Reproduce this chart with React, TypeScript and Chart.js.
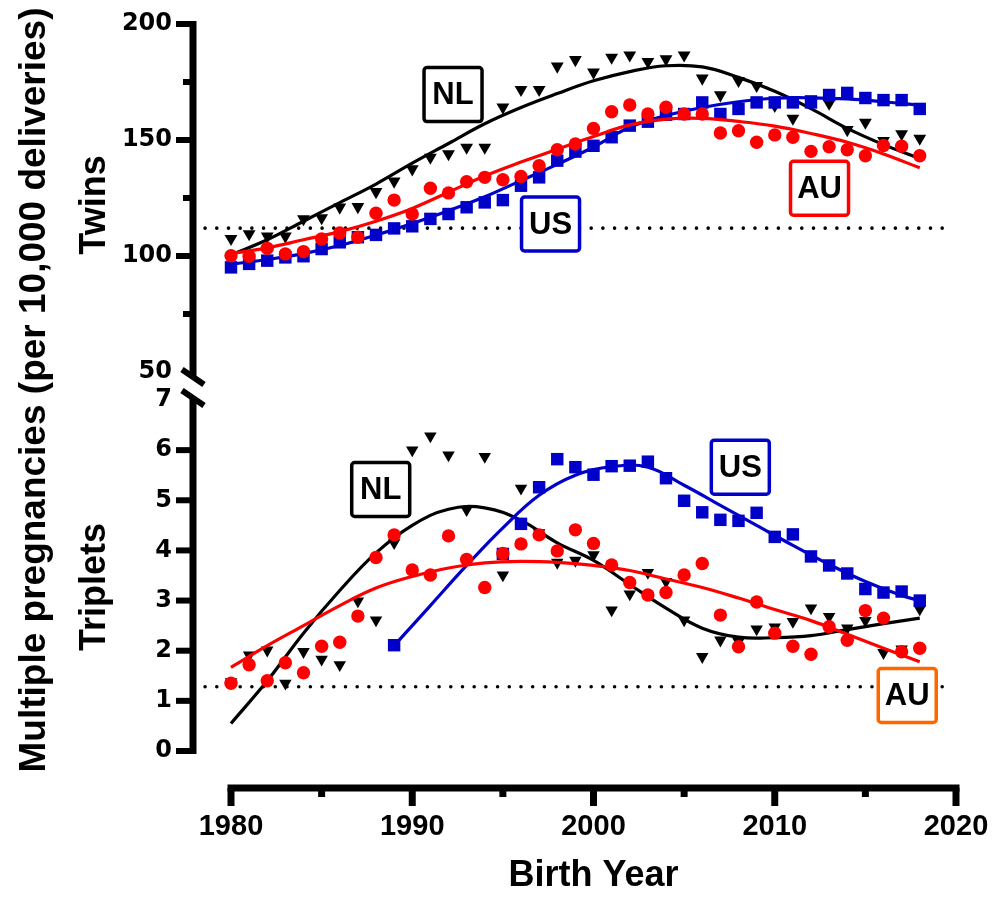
import React, { useEffect, useRef } from "react";
import { Chart, registerables } from "chart.js";

Chart.register(...registerables);

// ---------- data ----------
const years = [
  1980, 1981, 1982, 1983, 1984, 1985, 1986, 1987, 1988, 1989,
  1990, 1991, 1992, 1993, 1994, 1995, 1996, 1997, 1998, 1999,
  2000, 2001, 2002, 2003, 2004, 2005, 2006, 2007, 2008, 2009,
  2010, 2011, 2012, 2013, 2014, 2015, 2016, 2017, 2018,
];

// Twins (per 10,000 deliveries)
const twinsNL = [
  107.5, 109.5, 108.5, 108.5, 116.0, 116.4, 121.0, 121.2, 127.7, 132.2,
  137.5, 142.5, 144.0, 146.8, 146.8, 164.1, 171.7, 171.7, 181.8, 184.6,
  179.2, 185.6, 186.6, 183.8, 184.9, 186.6, 176.6, 169.4, 175.6, 173.4,
  164.8, 159.3, 167.7, 165.8, 154.4, 157.6, 149.7, 152.6, 150.7,
];
const twinsUS = [
  95.1, 96.6, 98.0, 99.4, 99.9, 103.0, 105.9, 108.1, 109.1, 111.9,
  112.8, 116.0, 118.1, 121.0, 123.1, 124.1, 130.3, 133.9, 141.1, 145.0,
  147.5, 151.2, 156.2, 157.9, 160.9, 161.2, 166.2, 161.2, 163.4, 166.2,
  166.2, 166.2, 166.2, 169.4, 170.3, 168.1, 167.2, 167.2, 163.4,
];
const twinsAU = [
  100.1, 99.9, 103.3, 100.9, 101.9, 107.3, 109.9, 108.1, 118.4, 124.1,
  118.1, 129.2, 127.2, 132.0, 133.9, 132.9, 134.3, 138.9, 145.8, 148.3,
  155.0, 162.2, 165.1, 161.2, 164.1, 161.2, 161.2, 153.0, 154.0, 149.0,
  152.2, 151.2, 145.1, 147.1, 145.8, 143.2, 147.6, 147.3, 143.2,
];

// Triplets (per 10,000 deliveries)
const tripNL = [
  1.38, 1.91, 2.01, 1.35, 1.98, 1.83, 1.72, 2.99, 2.61, 4.15,
  6.0, 6.28, 5.9, 4.81, 5.87, 3.51, 5.24, 4.35, 3.76, 3.8,
  3.91, 2.81, 3.13, 3.56, 3.38, 2.61, 1.88, 2.21, 2.18, 2.43,
  2.47, 2.58, 2.85, 2.68, 2.45, 2.6, 1.96, 2.03, 2.83,
];
const tripUS = [
  null, null, null, null, null, null, null, null, null, 2.11,
  null, null, null, null, null, 3.93, 4.53, 5.26, 5.82, 5.66,
  5.51, 5.68, 5.69, 5.77, 5.44, 4.99, 4.76, 4.61, 4.59, 4.75,
  4.27, 4.32, 3.88, 3.7, 3.54, 3.23, 3.16, 3.18, 3.0,
];
const tripAU = [
  1.35, 1.72, 1.4, 1.76, 1.56, 2.09, 2.17, 2.69, 3.86, 4.31,
  3.61, 3.51, 4.29, 3.82, 3.26, 3.94, 4.13, 4.31, 3.99, 4.41,
  4.14, 3.71, 3.36, 3.11, 3.16, 3.51, 3.74, 2.71, 2.08, 2.97,
  2.35, 2.09, 1.93, 2.48, 2.21, 2.8, 2.65, 1.98, 2.05,
];

// Fitted curves
const fitYears = [
  1980, 1982, 1984, 1986, 1988, 1990, 1992, 1994, 1996, 1998,
  2000, 2002, 2004, 2006, 2008, 2010, 2012, 2014, 2016, 2018,
];
const twinsNLFit = [100.5, 107, 115, 123, 131, 140, 148.5, 157, 164, 170, 175.5, 179.5, 182, 181.5, 177, 171, 163.5, 155, 148, 142];
const twinsUSFit = [96.5, 98.5, 101, 104.5, 109, 114, 119.5, 125.5, 132.5, 139.5, 147, 155.5, 160.5, 164, 166.5, 168, 168.2, 167.7, 166.5, 165];
const twinsAUFit = [101, 103.5, 107, 110.5, 115, 120.5, 127.5, 134.5, 140.5, 146, 151.5, 156.5, 159, 159.3, 158, 156, 152.8, 149, 144, 138];
const tripNLFit = [0.55, 1.4, 2.35, 3.2, 3.95, 4.5, 4.82, 4.85, 4.6, 4.15, 3.8, 3.32, 2.85, 2.45, 2.27, 2.26, 2.3, 2.42, 2.54, 2.65];
const tripAUFit = [1.67, 2.1, 2.5, 2.9, 3.25, 3.48, 3.65, 3.75, 3.78, 3.76, 3.7, 3.6, 3.43, 3.26, 3.05, 2.82, 2.6, 2.33, 2.05, 1.78];
const tripUSFitYears = [1989, 1991, 1993, 1995, 1997, 1999, 2001, 2003, 2005, 2007, 2009, 2011, 2013, 2015, 2017, 2018];
const tripUSFit = [2.1, 2.9, 3.7, 4.45, 5.1, 5.5, 5.67, 5.66, 5.3, 4.9, 4.5, 4.1, 3.72, 3.38, 3.1, 3.0];

// Dotted reference levels
const refYears = [1978.57, 2019.6];
const twinsRef = [112, 112];
const tripRef = [1.28, 1.28];

// Ticks
const xTicks = [1980, 1985, 1990, 1995, 2000, 2005, 2010, 2015, 2020];
const twinsTicks = [50, 100, 150, 200];
const twinsMinorTicks = [75, 125, 175];
const tripTicks = [0, 1, 2, 3, 4, 5, 6, 7];

// Country labels (anchored in data coordinates)
const boxLabels = [
  { text: "NL", year: 1992.25, value: 169.6, axis: "yT", color: "#000000" },
  { text: "US", year: 1997.63, value: 113.8, axis: "yT", color: "#0000C8" },
  { text: "AU", year: 2012.47, value: 129.2, axis: "yT", color: "#FF0000" },
  { text: "NL", year: 1988.26, value: 5.215, axis: "yP", color: "#000000" },
  { text: "US", year: 2008.1, value: 5.66, axis: "yP", color: "#0000C8" },
  { text: "AU", year: 2017.31, value: 1.107, axis: "yP", color: "#FF6600" },
];

const BLACK = "#000000";
const BLUE = "#0000C8";
const RED = "#FF0000";

const pts = (xs: number[], ys: (number | null)[]) =>
  xs.map((x, i) => ({ x, y: ys[i] })).filter((p) => p.y !== null && p.y !== undefined);

const pointsDS = (xs: number[], ys: (number | null)[], axis: string, style: string, radius: number, color: string, rotation = 0) => ({
  data: pts(xs, ys),
  yAxisID: axis,
  showLine: false,
  pointStyle: style,
  pointRadius: radius,
  pointRotation: rotation,
  pointBackgroundColor: color,
  pointBorderColor: color,
  pointBorderWidth: 0,
  borderColor: color,
  backgroundColor: color,
  clip: false,
});

const lineDS = (xs: number[], ys: number[], axis: string, color: string) => ({
  data: pts(xs, ys),
  yAxisID: axis,
  borderColor: color,
  borderWidth: 3.2,
  pointRadius: 0,
  tension: 0.4,
  fill: false,
  clip: false,
});

const refDS = (ys: number[], axis: string) => ({
  data: pts(refYears, ys),
  yAxisID: axis,
  borderColor: BLACK,
  borderWidth: 3.6,
  borderDash: [0, 11.7],
  borderCapStyle: "round",
  pointRadius: 0,
  fill: false,
  clip: false,
});

const decorPlugin = {
  id: "decor",
  afterDraw(chart: any) {
    const { ctx, chartArea, scales } = chart;
    const x = scales.x;
    const yT = scales.yT;
    const yP = scales.yP;
    const axX = chartArea.left - 38;
    const seg = (x1: number, y1: number, x2: number, y2: number) => {
      ctx.beginPath();
      ctx.moveTo(x1, y1);
      ctx.lineTo(x2, y2);
      ctx.stroke();
    };
    ctx.save();
    ctx.strokeStyle = "#000";
    ctx.lineCap = "butt";

    // Y axis with break
    const topY = yT.getPixelForValue(200);
    const brk1 = yT.getPixelForValue(50) + 5;
    const brk2 = yP.getPixelForValue(7) - 2;
    const zeroY = yP.getPixelForValue(0);
    ctx.lineWidth = 7;
    seg(axX, topY - 3, axX, brk1);
    seg(axX, brk2, axX, zeroY + 3);
    ctx.lineWidth = 6;
    for (const cy of [brk1, brk2]) seg(axX - 11, cy - 7.5, axX + 11, cy + 7.5);

    ctx.lineWidth = 6;
    for (const v of twinsTicks) {
      if (v === 50) continue;
      const p = yT.getPixelForValue(v);
      seg(axX, p, axX - 17, p);
    }
    for (const v of twinsMinorTicks) {
      const p = yT.getPixelForValue(v);
      seg(axX, p, axX - 10, p);
    }
    for (const v of tripTicks) {
      if (v === 7) continue;
      const p = yP.getPixelForValue(v);
      seg(axX, p, axX - 17, p);
    }

    // X axis
    const bY = chartArea.bottom;
    ctx.lineWidth = 7;
    seg(x.getPixelForValue(1980) - 3.5, bY, x.getPixelForValue(2020) + 3.5, bY);
    for (const v of xTicks) {
      const p = x.getPixelForValue(v);
      const len = v % 10 === 0 ? 18 : 9;
      seg(p, bY, p, bY + len);
    }

    // Country label boxes
    for (const b of boxLabels) {
      const cx = x.getPixelForValue(b.year);
      const cy = scales[b.axis].getPixelForValue(b.value);
      const w = 58;
      const h = 54;
      ctx.beginPath();
      ctx.roundRect(cx - w / 2, cy - h / 2, w, h, 3);
      ctx.fillStyle = "#ffffff";
      ctx.fill();
      ctx.lineWidth = 3.5;
      ctx.strokeStyle = b.color;
      ctx.stroke();
      ctx.fillStyle = "#000";
      ctx.font = 'bold 31px "Liberation Sans", Arial, sans-serif';
      ctx.textAlign = "center";
      ctx.textBaseline = "middle";
      ctx.fillText(b.text, cx, cy + 1);
    }

    // Main vertical title
    ctx.translate(35, 390);
    ctx.rotate(-Math.PI / 2);
    ctx.fillStyle = "#000";
    ctx.font = 'bold 37px "Liberation Sans", Arial, sans-serif';
    ctx.textAlign = "center";
    ctx.textBaseline = "middle";
    ctx.fillText("Multiple pregnancies (per 10,000 deliveries)", 0, 0);
    ctx.restore();
  },
};

const tickFontY = { family: '"DejaVu Sans", sans-serif', size: 24, weight: "bold" };
const titleFont = { family: '"Liberation Sans", Arial, sans-serif', size: 36, weight: "bold" };

const zeroPad = (s: any) => {
  s.paddingTop = 0;
  s.paddingBottom = 0;
  s.paddingLeft = 0;
  s.paddingRight = 0;
};

export default function App() {
  const ref = useRef<HTMLCanvasElement>(null);
  useEffect(() => {
    const canvas = ref.current;
    if (!canvas) return;
    const datasets: any[] = [
      pointsDS(years, twinsAU, "yT", "circle", 6.7, RED),
      pointsDS(years, tripAU, "yP", "circle", 6.7, RED),
      lineDS(fitYears, twinsAUFit, "yT", RED),
      lineDS(fitYears, tripAUFit, "yP", RED),
      pointsDS(years, twinsUS, "yT", "rect", 8.8, BLUE),
      pointsDS(years, tripUS, "yP", "rect", 8.8, BLUE),
      lineDS(fitYears, twinsUSFit, "yT", BLUE),
      lineDS(tripUSFitYears, tripUSFit, "yP", BLUE),
      pointsDS(years, twinsNL, "yT", "triangle", 7.4, BLACK, 180),
      pointsDS(years, tripNL, "yP", "triangle", 7.2, BLACK, 180),
      lineDS(fitYears, twinsNLFit, "yT", BLACK),
      lineDS(fitYears, tripNLFit, "yP", BLACK),
      refDS(twinsRef, "yT"),
      refDS(tripRef, "yP"),
    ];
    const chart = new Chart(canvas, {
      type: "line",
      data: { datasets },
      options: {
        responsive: false,
        animation: false,
        devicePixelRatio: 1,
        events: [],
        layout: { padding: { top: 24, right: 36, bottom: 0, left: 0 } },
        plugins: {
          legend: { display: false },
          tooltip: { enabled: false },
          title: { display: false },
        },
        scales: {
          x: {
            type: "linear",
            position: "bottom",
            min: 1980,
            max: 2020,
            grid: { display: false, drawTicks: false },
            border: { display: false },
            afterBuildTicks: (s: any) => {
              s.ticks = xTicks.filter((v) => v % 10 === 0).map((v) => ({ value: v }));
            },
            afterFit: (s: any) => {
              s.height = 113;
              zeroPad(s);
            },
            ticks: {
              padding: 22,
              autoSkip: false,
              maxRotation: 0,
              color: "#000",
              font: { family: '"Liberation Sans", Arial, sans-serif', size: 29, weight: "bold" },
              callback: (v: any) => String(v),
            },
            title: {
              display: true,
              text: "Birth Year",
              color: "#000",
              font: titleFont,
              padding: { top: 0, bottom: 3 },
            },
          },
          yP: {
            type: "linear",
            position: "left",
            stack: "panels",
            stackWeight: 402,
            min: -0.738,
            max: 7.279,
            grid: { display: false, drawTicks: false },
            border: { display: false },
            afterBuildTicks: (s: any) => {
              s.ticks = tripTicks.map((v) => ({ value: v }));
            },
            afterFit: (s: any) => {
              s.width = 231;
              zeroPad(s);
            },
            ticks: {
              padding: 59,
              autoSkip: false,
              color: "#000",
              font: tickFontY,
              callback: (v: any) => String(v),
            },
            title: {
              display: true,
              text: "Triplets",
              color: "#000",
              font: titleFont,
              padding: { top: 73, bottom: 0 },
            },
          },
          yT: {
            type: "linear",
            position: "left",
            stack: "panels",
            stackWeight: 362,
            min: 43.97,
            max: 200,
            grid: { display: false, drawTicks: false },
            border: { display: false },
            afterBuildTicks: (s: any) => {
              s.ticks = twinsTicks.map((v) => ({ value: v }));
            },
            afterFit: (s: any) => {
              s.width = 231;
              zeroPad(s);
            },
            ticks: {
              padding: 59,
              autoSkip: false,
              color: "#000",
              font: tickFontY,
              callback: (v: any) => String(v),
            },
            title: {
              display: true,
              text: "Twins",
              color: "#000",
              font: titleFont,
              padding: { top: 73, bottom: 0 },
            },
          },
        },
      } as any,
      plugins: [decorPlugin],
    });
    return () => chart.destroy();
  }, []);

  return (
    <div style={{ position: "absolute", left: 0, top: 0, width: 992, height: 901, background: "#ffffff" }}>
      <canvas ref={ref} width={992} height={901} style={{ display: "block", width: 992, height: 901 }} />
    </div>
  );
}
